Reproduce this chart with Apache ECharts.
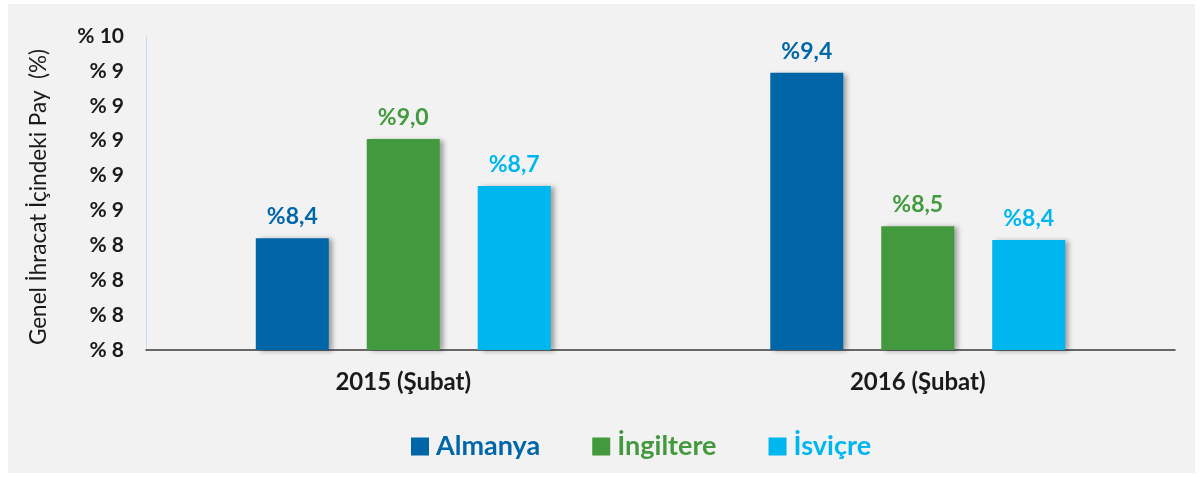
<!DOCTYPE html>
<html><head><meta charset="utf-8">
<script src="https://cdn.jsdelivr.net/npm/echarts@6/dist/echarts.min.js"></script>
<style>html,body{margin:0;padding:0;background:#fff;}#c{width:1203px;height:477px;}</style>
</head><body><div id="c"></div>
<script>
const categories = ['2015 (Şubat)', '2016 (Şubat)'];
const seriesNames = ['Almanya', 'İngiltere', 'İsviçre'];
const almanya = [8.44, 9.39];
const ingiltere = [9.01, 8.51];
const isvicre = [8.74, 8.43];
const yTickLabels = ['% 8', '% 8', '% 8', '% 8', '% 9', '% 9', '% 9', '% 9', '% 9', '% 10'];
const colors = ['#0066a8', '#43993d', '#00b6ef'];
const FONT = 'Lato';

const chart = echarts.init(document.getElementById('c'));
const fmt = v => '%' + v.toFixed(1).replace('.', ',');
function mk(name, data, color) {
  return {
    name, type: 'bar', data, barWidth: 73, barGap: '52%',
    itemStyle: { color, shadowColor: 'rgba(0,0,0,0.35)', shadowBlur: 5, shadowOffsetX: 4, shadowOffsetY: 1 },
    label: { show: true, position: 'top', distance: 10, color, fontFamily: FONT, fontWeight: 'bold', fontSize: 23,
      formatter: p => fmt(p.value) }
  };
}
chart.setOption({
  backgroundColor: '#ffffff',
  animation: false,
  graphic: [{ type: 'rect', z: -10, shape: { x: 8, y: 4, width: 1187, height: 469 }, style: { fill: '#f2f2f2' } }],
  grid: { left: 146, right: 28, top: 36, bottom: 127 },
  legend: {
    left: 406, top: 428, itemWidth: 18, itemHeight: 18, itemGap: 52, icon: 'rect',
    textStyle: { fontFamily: FONT, fontWeight: 'bold', fontSize: 27, padding: [0, 0, 0, 2] },
    data: seriesNames.map((n, i) => ({ name: n, textStyle: { color: colors[i] } }))
  },
  xAxis: {
    type: 'category', data: categories,
    axisLine: { lineStyle: { color: '#3a3a3a', width: 1.5 } },
    axisTick: { show: false },
    axisLabel: { color: '#1a1a1a', fontFamily: FONT, fontWeight: 'bold', fontSize: 24, margin: 20 }
  },
  yAxis: {
    type: 'value', min: 7.8, max: 9.6, interval: 0.2,
    name: 'Genel İhracat İçindeki Pay  (%)', nameLocation: 'middle', nameGap: 96, nameRotate: 90,
    nameTextStyle: { color: '#1a1a1a', fontFamily: FONT, fontSize: 22.5, padding: [0, 8, 0, 0] },
    axisLine: { show: true, lineStyle: { color: '#c5dbef', width: 1 } },
    axisTick: { show: false },
    splitLine: { show: false },
    axisLabel: { color: '#1a1a1a', fontFamily: FONT, fontWeight: 'bold', fontSize: 21, margin: 22,
      formatter: (v, i) => yTickLabels[i] }
  },
  series: [mk(seriesNames[0], almanya, colors[0]), mk(seriesNames[1], ingiltere, colors[1]), mk(seriesNames[2], isvicre, colors[2])]
});
</script></body></html>
